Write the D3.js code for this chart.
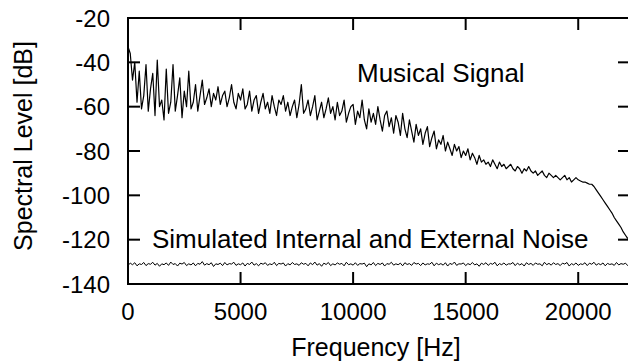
<!DOCTYPE html>
<html>
<head>
<meta charset="utf-8">
<script src="https://cdn.jsdelivr.net/npm/d3@7"></script>
<style>
  html, body { margin: 0; padding: 0; background: #fff; }
  svg { display: block; font-family: "Liberation Sans", Arial, Helvetica, sans-serif; }
</style>
</head>
<body>
<div id="host"></div>
<script>
// spectrum of the musical signal, one value every 100 Hz (dB)
const signalStep = 100;
const signalDb = [
  -33, -36, -48, -40, -58, -44, -61, -55, -41, -62,
  -52, -45, -64, -39, -60, -57, -66, -43, -63, -58,
  -41, -62, -55, -47, -65, -53, -60, -44, -61, -58,
  -50, -62, -55, -48, -59, -56, -52, -60, -54, -57,
  -51, -59, -55, -53, -60, -56, -50, -58, -61, -54,
  -57, -52, -61, -59, -53, -62, -57, -55, -63, -58,
  -54, -61, -58, -63, -55, -60, -64, -57, -59, -55,
  -62, -58, -64, -60, -57, -65, -59, -50, -63, -61,
  -57, -64, -60, -55, -66, -62, -58, -65, -61, -56,
  -63, -60, -66, -58, -64, -62, -57, -67, -63, -60,
  -59, -68, -62, -65, -57, -66, -70, -61, -67, -63,
  -68, -60, -66, -71, -64, -62, -69, -65, -72, -64,
  -67, -73, -63, -70, -74, -66, -71, -76, -68, -73,
  -70, -77, -72, -69, -78, -74, -71, -79, -75, -77,
  -73, -80, -76, -79, -82, -77, -80, -78, -83, -80,
  -82, -79, -84, -81, -83, -86, -82, -85, -84, -86,
  -85, -87, -84, -86, -88, -85, -87, -86, -88, -87,
  -86, -88, -89, -87, -88, -90, -88, -89, -87, -89,
  -90, -89, -91, -90, -89, -91, -92, -90, -91, -92,
  -91, -92, -93, -92, -91, -93, -92, -94, -93, -92,
  -93, -93.5, -94, -94, -94.5, -95, -95, -96, -97.5, -99,
  -100.5, -102, -103.5, -105, -106.5, -108, -110, -111.5, -113, -114.5,
  -116.5, -118, -119.5
];

// simulated internal + external noise, one value every 100 Hz (dB)
const noiseStep = 100;
const noiseDb = [
  -131.6, -130.6, -131.3, -130.4, -131.8, -130.9, -131.2, -130.3, -131.7, -130.8,
  -131.1, -130.2, -131.5, -130.7, -132.0, -130.9, -131.3, -130.5, -131.6, -130.1,
  -131.2, -130.8, -131.9, -130.6, -131.0, -130.3, -131.7, -130.9, -131.4, -130.5,
  -131.8, -130.7, -131.1, -129.9, -131.5, -130.8, -131.3, -130.4, -132.1, -130.9,
  -131.2, -130.6, -131.7, -130.3, -131.4, -130.8, -131.0, -130.2, -131.6, -130.9,
  -131.3, -130.5, -131.9, -130.7, -131.2, -130.1, -131.5, -130.8, -131.8, -130.6,
  -131.1, -130.4, -131.6, -130.9, -131.3, -130.2, -131.7, -130.7, -131.0, -130.5,
  -131.9, -130.8, -131.4, -130.3, -131.2, -130.9, -131.6, -130.4, -131.1, -130.7,
  -131.8, -130.5, -131.3, -130.1, -131.5, -130.8, -132.0, -130.6, -131.2, -130.3,
  -131.7, -130.9, -131.4, -130.5, -131.1, -130.7, -131.8, -130.2, -131.3, -130.9,
  -131.5, -130.4, -131.6, -130.8, -131.0, -130.6, -132.2, -130.9, -131.4, -130.3,
  -131.7, -130.7, -131.2, -130.5, -131.9, -130.8, -131.1, -130.2, -131.5, -130.9,
  -131.3, -130.6, -131.8, -130.4, -131.2, -130.8, -131.6, -130.3, -131.0, -130.7,
  -131.7, -130.5, -131.4, -130.9, -131.1, -130.2, -131.8, -130.6, -131.3, -130.8,
  -131.5, -130.4, -131.9, -130.7, -131.2, -130.1, -131.6, -130.9, -131.0, -130.5,
  -131.7, -130.8, -131.3, -130.3, -131.4, -130.9, -132.0, -130.6, -131.2, -130.4,
  -131.6, -130.7, -131.1, -130.2, -131.8, -130.8, -131.3, -130.5, -131.5, -130.9,
  -131.0, -130.3, -131.7, -130.6, -131.4, -130.8, -131.9, -130.4, -131.2, -130.7,
  -131.6, -130.5, -131.1, -130.9, -131.8, -130.2, -131.3, -130.7, -131.5, -130.4,
  -131.2, -130.8, -131.7, -130.6, -131.0, -130.3, -131.9, -130.8, -131.4, -130.5,
  -131.6, -130.9, -131.2, -130.4, -131.7, -130.6, -131.1, -130.2, -131.5, -130.8,
  -131.3, -130.5, -131.8, -130.7, -131.2, -130.9, -131.6, -130.3, -131.4, -130.8,
  -131.1, -130.6, -131.7, -130.5
];

const xTicks = [0, 5000, 10000, 15000, 20000];
const yTicks = [-20, -40, -60, -80, -100, -120, -140];

const width = 628;
const height = 362;
const plot = { left: 128, right: 630, top: 18, bottom: 284 };

const svg = d3.select('#host').append('svg')
  .attr('width', width)
  .attr('height', height);

const x = d3.scaleLinear().domain([0, 22300]).range([plot.left, plot.right]);
const y = d3.scaleLinear().domain([-140, -20]).range([plot.bottom, plot.top]);

svg.append('defs').append('clipPath').attr('id', 'clip')
  .append('rect')
  .attr('x', plot.left).attr('y', plot.top)
  .attr('width', plot.right - plot.left).attr('height', plot.bottom - plot.top);

// frame
svg.append('rect')
  .attr('x', plot.left).attr('y', plot.top)
  .attr('width', plot.right - plot.left).attr('height', plot.bottom - plot.top)
  .attr('fill', 'none').attr('stroke', '#000').attr('stroke-width', 2);

const tickLen = 12;
const axisFont = 24;

// y ticks (left and mirrored right)
yTicks.forEach((v) => {
  const yy = y(v);
  svg.append('line').attr('x1', plot.left).attr('x2', plot.left + tickLen)
    .attr('y1', yy).attr('y2', yy).attr('stroke', '#000').attr('stroke-width', 2);
  svg.append('line').attr('x1', plot.right).attr('x2', plot.right - tickLen)
    .attr('y1', yy).attr('y2', yy).attr('stroke', '#000').attr('stroke-width', 2);
  svg.append('text')
    .attr('x', 110).attr('y', yy)
    .attr('dy', '0.36em')
    .attr('text-anchor', 'end')
    .attr('font-size', axisFont)
    .text(String(v));
});

// x ticks (bottom and mirrored top)
xTicks.forEach((v) => {
  const xx = x(v);
  svg.append('line').attr('x1', xx).attr('x2', xx)
    .attr('y1', plot.bottom).attr('y2', plot.bottom - tickLen).attr('stroke', '#000').attr('stroke-width', 2);
  svg.append('line').attr('x1', xx).attr('x2', xx)
    .attr('y1', plot.top).attr('y2', plot.top + tickLen).attr('stroke', '#000').attr('stroke-width', 2);
  svg.append('text')
    .attr('x', xx).attr('y', 320)
    .attr('text-anchor', 'middle')
    .attr('font-size', axisFont)
    .text(String(v));
});

const g = svg.append('g').attr('clip-path', 'url(#clip)');

const line = (step) => d3.line()
  .x((d, i) => x(i * step))
  .y((d) => y(d));

g.append('path')
  .datum(signalDb)
  .attr('d', line(signalStep))
  .attr('fill', 'none')
  .attr('stroke', '#000')
  .attr('stroke-width', 1.2)
  .attr('stroke-linejoin', 'round');

g.append('path')
  .datum(noiseDb)
  .attr('d', line(noiseStep))
  .attr('fill', 'none')
  .attr('stroke', '#000')
  .attr('stroke-width', 1)
  .attr('stroke-linejoin', 'round');

// annotations
svg.append('text').attr('x', 357).attr('y', 82)
  .attr('font-size', 26).text('Musical Signal');
svg.append('text').attr('x', 152).attr('y', 248)
  .attr('font-size', 26).text('Simulated Internal and External Noise');

// axis titles
svg.append('text')
  .attr('x', 376).attr('y', 356)
  .attr('text-anchor', 'middle')
  .attr('font-size', 25)
  .text('Frequency [Hz]');
svg.append('text')
  .attr('transform', 'translate(32,146) rotate(-90)')
  .attr('text-anchor', 'middle')
  .attr('font-size', 25)
  .text('Spectral Level [dB]');
</script>
</body>
</html>
